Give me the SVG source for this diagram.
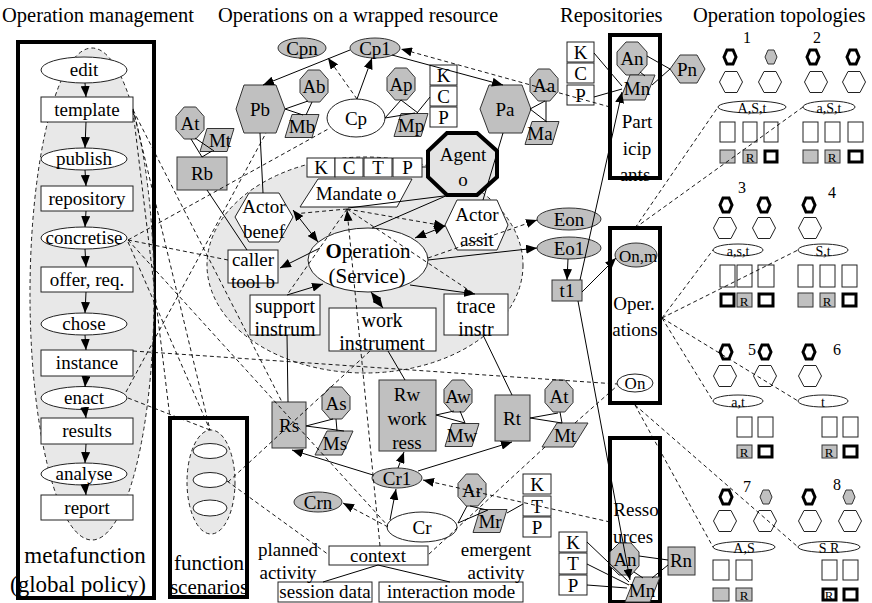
<svg xmlns="http://www.w3.org/2000/svg" width="872" height="603" viewBox="0 0 872 603">
<style>
.t{font-family:"Liberation Serif","Times New Roman",serif;font-size:19px;text-anchor:middle;fill:#000}
.s{font-size:14px}
.h{font-size:20.5px;text-anchor:start}
.w{fill:#fff;stroke:#222;stroke-width:1}
.g{fill:#c0c0c0;stroke:#333;stroke-width:1}
.lg{fill:#e8e8e8;stroke:#222;stroke-width:1;stroke-dasharray:4 3}
.thick{fill:none;stroke:#000;stroke-width:4}
.tk{fill:#fff;stroke:#000;stroke-width:3}
.ln{stroke:#000;stroke-width:1;fill:none}
.ds{stroke:#000;stroke-width:0.9;stroke-dasharray:4 3;fill:none}
.a{marker-end:url(#ar)}
.b{marker-start:url(#ar);marker-end:url(#ar)}
</style>
<defs>
<marker id="ar" viewBox="0 0 11 9" refX="11" refY="4.5" markerWidth="11" markerHeight="9" markerUnits="userSpaceOnUse" orient="auto-start-reverse"><path d="M0,0 L11,4.5 L0,9 z" fill="#000"/></marker>
<polygon id="oct" points="-5.8,-16 5.8,-16 14,-6.6 14,6.6 5.8,16 -5.8,16 -14,6.6 -14,-6.6"/>
<polygon id="par" points="-10,-11.5 17,-11.5 10,11.5 -17,11.5"/>
<polygon id="sh" points="-6,0 -3,-7 3,-7 6,0 3,7 -3,7"/>
<polygon id="bh" points="-11.5,0 -6,-10.5 6,-10.5 11.5,0 6,10.5 -6,10.5"/>
</defs>

<g id="titles">
<text class="t h" x="2" y="22">Operation management</text>
<text class="t h" x="218" y="22">Operations on a wrapped resource</text>
<text class="t h" x="560" y="22">Repositories</text>
<text class="t h" x="693" y="22">Operation topologies</text>
</g>

<g id="metafunction">
<rect x="18" y="42" width="136" height="556" class="thick"/>
<ellipse cx="92" cy="294" rx="62" ry="246" class="lg"/>
<text class="t" x="85" y="563" style="font-size:23px">metafunction</text>
<text class="t" x="78" y="592" style="font-size:23px">(global policy)</text>
</g>
<g id="scenarios">
<rect x="170" y="418" width="77" height="179" class="thick"/>
<ellipse cx="211" cy="482" rx="24" ry="52" class="lg"/>
<ellipse cx="210" cy="451" rx="17" ry="7.5" class="w"/>
<ellipse cx="210" cy="480" rx="17" ry="7.5" class="w"/>
<ellipse cx="210" cy="508" rx="17" ry="8" class="w"/>
<text class="t" x="209" y="570" style="font-size:21px">function</text>
<text class="t" x="209" y="594" style="font-size:21px">scenarios</text>
</g>
<g id="operation-area">
<ellipse cx="365" cy="265" rx="158" ry="108" class="lg"/>
</g>

<g id="edit"><ellipse cx="84" cy="70" rx="43" ry="13" class="w"/><text class="t" x="84" y="76">edit</text></g>
<g id="template"><rect x="41" y="97" width="92" height="25" class="w"/><text class="t" x="87" y="116">template</text></g>
<g id="publish"><ellipse cx="84" cy="159" rx="43" ry="11" class="w"/><text class="t" x="84" y="165">publish</text></g>
<g id="repository"><rect x="41" y="186" width="92" height="25" class="w"/><text class="t" x="87" y="205">repository</text></g>
<g id="concretise"><ellipse cx="84" cy="238" rx="43" ry="11" class="w"/><text class="t" x="84" y="244">concretise</text></g>
<g id="offer"><rect x="41" y="267" width="92" height="25" class="w"/><text class="t" x="87" y="286">offer, req.</text></g>
<g id="chose"><ellipse cx="84" cy="324" rx="43" ry="11" class="w"/><text class="t" x="84" y="330">chose</text></g>
<g id="instance"><rect x="41" y="350" width="92" height="26" class="w"/><text class="t" x="87" y="369">instance</text></g>
<g id="enact"><ellipse cx="84" cy="398" rx="43" ry="11.5" class="w"/><text class="t" x="84" y="404">enact</text></g>
<g id="results"><rect x="41" y="418" width="92" height="26" class="w"/><text class="t" x="87" y="437">results</text></g>
<g id="analyse"><ellipse cx="84" cy="474" rx="43" ry="11" class="w"/><text class="t" x="84" y="480">analyse</text></g>
<g id="report"><rect x="41" y="495" width="92" height="25" class="w"/><text class="t" x="87" y="514">report</text></g>

<g id="Cpn"><ellipse cx="302" cy="48" rx="24" ry="10" class="g"/><text class="t" x="302" y="55">Cpn</text></g>
<g id="Cp1"><ellipse cx="375" cy="48" rx="25" ry="10" class="g"/><text class="t" x="375" y="55">Cp1</text></g>
<g id="Pb"><polygon points="236,109 244,85 276,85 285,109 276,133 244,133" class="g"/><text class="t" x="260" y="116">Pb</text></g>
<g id="Ab"><use href="#oct" x="314" y="86" class="g"/><text class="t" x="314" y="93">Ab</text></g>
<g id="Mb"><use href="#par" x="302" y="126" class="g"/><text class="t" x="302" y="133">Mb</text></g>
<g id="Cp"><ellipse cx="356" cy="118" rx="29" ry="19" class="w"/><text class="t" x="356" y="125">Cp</text></g>
<g id="At1"><use href="#oct" x="190" y="123" class="g"/><text class="t" x="190" y="130">At</text></g>
<g id="Mt1"><use href="#par" x="217" y="140" class="g"/><text class="t" x="220" y="147">Mt</text></g>
<g id="Rb"><rect x="177" y="157" width="50" height="33" class="g"/><text class="t" x="202" y="180">Rb</text></g>
<g id="Ap"><use href="#oct" x="401" y="84" class="g"/><text class="t" x="401" y="91">Ap</text></g>
<g id="Mp"><use href="#par" x="411" y="125" class="g"/><text class="t" x="411" y="132">Mp</text></g>
<g id="KCP1">
<rect x="430" y="65" width="27" height="20" class="w"/><text class="t" x="443.5" y="82">K</text>
<rect x="430" y="86" width="27" height="20" class="w"/><text class="t" x="443.5" y="103">C</text>
<rect x="430" y="107" width="27" height="20" class="w"/><text class="t" x="443.5" y="124">P</text>
</g>
<g id="Pa"><polygon points="480,109 489,85 522,85 531,109 522,133 489,133" class="g"/><text class="t" x="505" y="116">Pa</text></g>
<g id="Aa"><use href="#oct" x="544" y="85" class="g"/><text class="t" x="544" y="92">Aa</text></g>
<g id="Ma"><use href="#par" x="542" y="133" class="g"/><text class="t" x="540" y="140">Ma</text></g>
<g id="Agent"><polygon points="447,133 477,133 497,151 497,177 477,195 447,195 428,177 428,151" style="fill:#e4e4e4;stroke:#000;stroke-width:4"/><text class="t" x="463" y="161">Agent</text><text class="t" x="463" y="186">o</text></g>
<g id="KCTP">
<rect x="307" y="158" width="28" height="19" class="w"/><text class="t" x="321" y="174">K</text>
<rect x="335" y="158" width="28" height="19" class="w"/><text class="t" x="349" y="174">C</text>
<rect x="364" y="158" width="28" height="19" class="w"/><text class="t" x="378" y="174">T</text>
<rect x="393" y="158" width="29" height="19" class="w"/><text class="t" x="407.5" y="174">P</text>
</g>
<g id="Mandate"><polygon points="318,179 412,179 397,207 300,207" class="w"/><text class="t" x="356" y="200">Mandate o</text></g>
<g id="ActorBenef"><polygon points="235,217 249,193 279,193 293,217 279,242 249,242" class="w"/><text class="t" x="264" y="213">Actor</text><text class="t" x="264" y="238">benef</text></g>
<g id="caller"><rect x="228" y="250" width="50" height="33" class="w"/><text class="t" x="253" y="266">caller</text><text class="t" x="253" y="288">tool b</text></g>
<g id="Operation"><ellipse cx="368" cy="260" rx="60" ry="32" class="w"/><text class="t" x="368" y="258" style="font-size:21px"><tspan font-weight="bold">O</tspan>peration</text><text class="t" x="367" y="283" style="font-size:21px">(Service)</text></g>
<g id="ActorAssit"><polygon points="445,225 457,200 497,200 508,225 497,250 457,250" class="w"/><text class="t" x="477" y="221">Actor</text><text class="t" x="477" y="246">assit</text></g>
<g id="support"><rect x="250" y="295" width="70" height="40" class="w"/><text class="t" x="285" y="313" style="font-size:20px">support</text><text class="t" x="285" y="336" style="font-size:20px">instrum</text></g>
<g id="work"><rect x="329" y="308" width="107" height="43" class="w"/><text class="t" x="382" y="327" style="font-size:20px">work</text><text class="t" x="382" y="350" style="font-size:20px">instrument</text></g>
<g id="trace"><rect x="444" y="294" width="64" height="41" class="w"/><text class="t" x="476" y="313" style="font-size:20px">trace</text><text class="t" x="476" y="336" style="font-size:20px">instr</text></g>
<g id="Eon"><ellipse cx="569" cy="219" rx="32" ry="11" class="g"/><text class="t" x="569" y="226">Eon</text></g>
<g id="Eo1"><ellipse cx="569" cy="248" rx="32" ry="11" class="g"/><text class="t" x="569" y="255">Eo1</text></g>
<g id="t1"><rect x="552" y="280" width="30" height="21" class="g"/><text class="t" x="567" y="297">t1</text></g>

<g id="Participants"><rect x="610" y="35" width="50" height="143" class="thick"/><text class="t" x="637" y="128">Part</text><text class="t" x="637" y="155">icip</text><text class="t" x="635" y="181">ants</text></g>
<g id="AnP"><polygon points="626,42 638,42 647,52 647,65 638,75 626,75 617,65 617,52" class="g"/><text class="t" x="632" y="65">An</text></g>
<g id="MnP"><polygon points="630,75 655,75 645,100 620,100" class="g"/><text class="t" x="637" y="95">Mn</text></g>
<g id="Pn"><polygon points="670,69 680,55 697,55 705,69 697,83 680,83" class="g"/><text class="t" x="687" y="76">Pn</text></g>
<g id="KCP2">
<rect x="567" y="42" width="27" height="20" class="w"/><text class="t" x="580.5" y="59">K</text>
<rect x="567" y="63" width="27" height="20" class="w"/><text class="t" x="580.5" y="80">C</text>
<rect x="567" y="85" width="27" height="20" class="w"/><text class="t" x="580.5" y="102">P</text>
</g>
<g id="Operations"><rect x="610" y="228" width="50" height="175" class="thick"/><text class="t" x="634" y="310">Oper.</text><text class="t" x="635" y="336">ations</text></g>
<g id="Onm"><ellipse cx="636" cy="255" rx="21" ry="12" class="g"/><text class="t" x="638" y="262" style="font-size:17px">On,m</text></g>
<g id="On"><ellipse cx="635" cy="383" rx="18" ry="9" class="w"/><text class="t" x="635" y="389" style="font-size:17px">On</text></g>
<g id="Ressources"><rect x="610" y="438" width="50" height="164" class="thick"/><text class="t" x="636" y="516">Resso</text><text class="t" x="633" y="543">urces</text></g>
<g id="AnR"><polygon points="619,543 631,543 639,552 639,566 631,575 619,575 610,566 610,552" class="g"/><text class="t" x="625" y="566">An</text></g>
<g id="MnR"><polygon points="635,577 660,577 650,602 625,602" class="g"/><text class="t" x="642" y="597">Mn</text></g>
<g id="Rn"><rect x="668" y="547" width="27" height="28" class="g"/><text class="t" x="681" y="567">Rn</text></g>
<g id="KTP2">
<rect x="559" y="532" width="28" height="20" class="w"/><text class="t" x="573" y="549">K</text>
<rect x="559" y="553" width="28" height="21" class="w"/><text class="t" x="573" y="570">T</text>
<rect x="559" y="575" width="28" height="20" class="w"/><text class="t" x="573" y="592">P</text>
</g>

<g id="Rs"><rect x="272" y="402" width="34" height="46" class="g"/><text class="t" x="289" y="432">Rs</text></g>
<g id="As"><use href="#oct" x="336" y="403" class="g"/><text class="t" x="336" y="410">As</text></g>
<g id="Ms"><polygon points="327,431 353,431 342,455 315,455" class="g"/><text class="t" x="335" y="450">Ms</text></g>
<g id="Rw"><rect x="379" y="380" width="57" height="71" class="g"/><text class="t" x="407" y="401">Rw</text><text class="t" x="407" y="425">work</text><text class="t" x="407" y="449">ress</text></g>
<g id="Aw"><use href="#oct" x="458" y="396" class="g"/><text class="t" x="458" y="403">Aw</text></g>
<g id="Mw"><use href="#par" x="462" y="435" class="g"/><text class="t" x="462" y="442">Mw</text></g>
<g id="Rt"><rect x="495" y="395" width="35" height="46" class="g"/><text class="t" x="512" y="425">Rt</text></g>
<g id="At2"><use href="#oct" x="559" y="396" class="g"/><text class="t" x="559" y="403">At</text></g>
<g id="Mt2"><polygon points="557,423 588,423 573,447 542,447" class="g"/><text class="t" x="565" y="442">Mt</text></g>
<g id="Cr1"><ellipse cx="397" cy="478" rx="25" ry="10" class="g"/><text class="t" x="397" y="485">Cr1</text></g>
<g id="Crn"><ellipse cx="318" cy="502" rx="24" ry="10" class="g"/><text class="t" x="318" y="509">Crn</text></g>
<g id="Cr"><ellipse cx="422" cy="527" rx="35" ry="15" class="w"/><text class="t" x="422" y="534">Cr</text></g>
<g id="Ar"><use href="#oct" x="472" y="490" class="g"/><text class="t" x="472" y="497">Ar</text></g>
<g id="Mr"><use href="#par" x="490" y="521" class="g"/><text class="t" x="490" y="528">Mr</text></g>
<g id="KTP1">
<rect x="523" y="474" width="28" height="20" class="w"/><text class="t" x="537" y="491">K</text>
<rect x="523" y="496" width="28" height="20" class="w"/><text class="t" x="537" y="513">T</text>
<rect x="523" y="517" width="28" height="20" class="w"/><text class="t" x="537" y="534">P</text>
</g>
<g id="context"><rect x="329" y="546" width="99" height="19" class="w"/><text class="t" x="378" y="562">context</text></g>
<g id="session"><rect x="278" y="582" width="94" height="20" class="w"/><text class="t" x="325" y="598">session data</text></g>
<g id="interaction"><rect x="379" y="582" width="144" height="20" class="w"/><text class="t" x="451" y="598">interaction mode</text></g>
<g id="labels">
<text class="t" x="288" y="556">planned</text><text class="t" x="288" y="579">activity</text>
<text class="t" x="496" y="556">emergent</text><text class="t" x="496" y="579">activity</text>
</g>

<g id="topology1">
<text class="t" x="747" y="43" style="font-size:16px">1</text>
<use href="#sh" x="730" y="57" class="tk"/><use href="#sh" x="771" y="57" class="g"/>
<use href="#bh" x="731" y="82" class="w"/><use href="#bh" x="770" y="82" class="w"/>
<ellipse cx="752" cy="107" rx="34" ry="6" class="w"/><text class="t s" x="752" y="113">A,S,t</text>
<rect x="720" y="122" width="15" height="20" class="w"/><rect x="743" y="122" width="14" height="20" class="w"/><rect x="764" y="122" width="14" height="20" class="w"/>
<rect x="720" y="150" width="15" height="13" class="g"/><rect x="743" y="150" width="14" height="13" class="g"/><text class="t" x="750" y="162" style="font-size:13px">R</text><rect x="765" y="151" width="12" height="11" class="tk"/>
</g>
<g id="topology2">
<text class="t" x="817" y="43" style="font-size:16px">2</text>
<use href="#sh" x="813" y="57" class="tk"/><use href="#sh" x="853" y="57" class="tk"/>
<use href="#bh" x="816" y="82" class="w"/><use href="#bh" x="854" y="82" class="w"/>
<ellipse cx="829" cy="107" rx="26" ry="6" class="w"/><text class="t s" x="829" y="113">a,S,t</text>
<rect x="803" y="122" width="15" height="20" class="w"/><rect x="825" y="122" width="15" height="20" class="w"/><rect x="848" y="122" width="15" height="20" class="w"/>
<rect x="803" y="150" width="15" height="13" class="g"/><rect x="825" y="150" width="15" height="13" class="g"/><text class="t" x="832" y="162" style="font-size:13px">R</text><rect x="849" y="151" width="13" height="11" class="tk"/>
</g>
<g id="topology3">
<text class="t" x="742" y="193" style="font-size:16px">3</text>
<use href="#sh" x="726" y="205" class="tk"/><use href="#sh" x="764" y="205" class="tk"/>
<use href="#bh" x="725" y="228" class="w"/><use href="#bh" x="764" y="228" class="w"/>
<ellipse cx="738" cy="250" rx="25" ry="6" class="w"/><text class="t s" x="738" y="256">a,s,t</text>
<rect x="720" y="265" width="15" height="22" class="w"/><rect x="737" y="265" width="15" height="22" class="w"/><rect x="758" y="265" width="16" height="22" class="w"/>
<rect x="721" y="294" width="13" height="12" class="tk"/><rect x="737" y="293" width="15" height="14" class="g"/><text class="t" x="744" y="306" style="font-size:13px">R</text><rect x="759" y="294" width="14" height="12" class="tk"/>
</g>
<g id="topology4">
<text class="t" x="832" y="198" style="font-size:16px">4</text>
<use href="#sh" x="809" y="205" class="tk"/>
<use href="#bh" x="810" y="228" class="w"/>
<ellipse cx="823" cy="250" rx="25" ry="6" class="w"/><text class="t s" x="823" y="256">S,t</text>
<rect x="798" y="265" width="15" height="22" class="w"/><rect x="820" y="265" width="15" height="22" class="w"/><rect x="842" y="265" width="15" height="22" class="w"/>
<rect x="798" y="293" width="15" height="14" class="g"/><rect x="820" y="293" width="15" height="14" class="g"/><text class="t" x="827" y="306" style="font-size:13px">R</text><rect x="843" y="294" width="13" height="12" class="tk"/>
</g>
<g id="topology5">
<text class="t" x="752" y="355" style="font-size:16px">5</text>
<use href="#sh" x="726" y="352" class="tk"/><use href="#sh" x="765" y="352" class="tk"/>
<use href="#bh" x="725" y="376" class="w"/><use href="#bh" x="765" y="376" class="w"/>
<ellipse cx="738" cy="401" rx="25" ry="6" class="w"/><text class="t s" x="738" y="407">a,t</text>
<rect x="737" y="417" width="15" height="20" class="w"/><rect x="758" y="417" width="15" height="20" class="w"/>
<rect x="737" y="445" width="15" height="13" class="g"/><text class="t" x="744" y="457" style="font-size:13px">R</text><rect x="759" y="446" width="13" height="11" class="tk"/>
</g>
<g id="topology6">
<text class="t" x="837" y="355" style="font-size:16px">6</text>
<use href="#sh" x="809" y="352" class="tk"/>
<use href="#bh" x="810" y="376" class="w"/>
<ellipse cx="823" cy="401" rx="25" ry="6" class="w"/><text class="t s" x="823" y="407">t</text>
<rect x="822" y="417" width="15" height="20" class="w"/><rect x="843" y="417" width="15" height="20" class="w"/>
<rect x="822" y="445" width="15" height="13" class="g"/><text class="t" x="829" y="457" style="font-size:13px">R</text><rect x="844" y="446" width="13" height="11" class="tk"/>
</g>
<g id="topology7">
<text class="t" x="747" y="492" style="font-size:16px">7</text>
<use href="#sh" x="726" y="497" class="tk"/><use href="#sh" x="766" y="497" class="g"/>
<use href="#bh" x="725" y="521" class="w"/><use href="#bh" x="765" y="521" class="w"/>
<ellipse cx="744" cy="547" rx="31" ry="5.5" class="w"/><text class="t s" x="744" y="553">A,S</text>
<rect x="713" y="560" width="16" height="20" class="w"/><rect x="736" y="560" width="16" height="20" class="w"/>
<rect x="713" y="588" width="16" height="13" class="g"/><rect x="736" y="588" width="16" height="13" class="g"/><text class="t" x="744" y="600" style="font-size:13px">R</text>
</g>
<g id="topology8">
<text class="t" x="837" y="490" style="font-size:16px">8</text>
<use href="#sh" x="809" y="497" class="tk"/><use href="#sh" x="849" y="497" class="g"/>
<use href="#bh" x="810" y="521" class="w"/><use href="#bh" x="850" y="521" class="w"/>
<ellipse cx="829" cy="547" rx="31" ry="5.5" class="w"/><text class="t s" x="829" y="553">S R</text>
<rect x="822" y="560" width="15" height="20" class="w"/><rect x="843" y="560" width="15" height="20" class="w"/>
<rect x="823" y="589" width="13" height="11" class="tk"/><text class="t" x="829" y="600" style="font-size:13px">R</text><rect x="844" y="589" width="13" height="11" class="tk"/>
</g>

<g id="connectors">
<line x1="85" y1="83" x2="86" y2="97" class="ln a"/>
<line x1="86" y1="122" x2="85" y2="148" class="ln a"/>
<line x1="85" y1="170" x2="86" y2="186" class="ln a"/>
<line x1="86" y1="211" x2="85" y2="227" class="ln a"/>
<line x1="85" y1="249" x2="86" y2="267" class="ln a"/>
<line x1="86" y1="292" x2="85" y2="313" class="ln a"/>
<line x1="85" y1="335" x2="86" y2="350" class="ln a"/>
<line x1="86" y1="376" x2="85" y2="387" class="ln a"/>
<line x1="85" y1="410" x2="86" y2="418" class="ln a"/>
<line x1="86" y1="444" x2="85" y2="463" class="ln a"/>
<line x1="85" y1="485" x2="86" y2="495" class="ln a"/>
<line x1="133" y1="109" x2="210" y2="430" class="ds"/>
<line x1="133" y1="110" x2="282" y2="402" class="ds"/>
<line x1="133" y1="111" x2="170" y2="418" class="ds"/>
<line x1="128" y1="240" x2="330" y2="128" class="ds"/>
<line x1="128" y1="240" x2="228" y2="260" class="ds"/>
<line x1="128" y1="240" x2="388" y2="526" class="ds"/>
<line x1="128" y1="242" x2="210" y2="430" class="ds"/>
<line x1="128" y1="398" x2="210" y2="430" class="ds"/>
<line x1="126" y1="392" x2="266" y2="133" class="ds"/>
<line x1="133" y1="351" x2="617" y2="384" class="ds"/>
<line x1="227" y1="481" x2="329" y2="555" class="ds"/>
<line x1="228" y1="482" x2="370" y2="351" class="ds"/>
<line x1="350" y1="50" x2="263" y2="85" class="ln a"/>
<line x1="357" y1="99" x2="372" y2="58" class="ln a"/>
<line x1="392" y1="55" x2="503" y2="85" class="ln a"/>
<line x1="357" y1="99" x2="328" y2="58" class="ds a"/>
<line x1="610" y1="107" x2="401" y2="49" class="ds a"/>
<line x1="285" y1="109" x2="308" y2="101" class="ln"/>
<line x1="285" y1="109" x2="303" y2="115" class="ln"/>
<line x1="312" y1="102" x2="306" y2="115" class="ln"/>
<line x1="202" y1="157" x2="191" y2="139" class="ln"/>
<line x1="202" y1="157" x2="212" y2="151" class="ln"/>
<line x1="195" y1="138" x2="214" y2="151" class="ln"/>
<line x1="385" y1="118" x2="401" y2="100" class="ln"/>
<line x1="385" y1="118" x2="415" y2="113" class="ln"/>
<line x1="401" y1="100" x2="418" y2="113" class="ln"/>
<line x1="417" y1="113" x2="430" y2="97" class="ln"/>
<line x1="530" y1="109" x2="545" y2="101" class="ln"/>
<line x1="530" y1="109" x2="547" y2="122" class="ln"/>
<line x1="546" y1="101" x2="546" y2="122" class="ln"/>
<line x1="260" y1="133" x2="263" y2="193" class="ln"/>
<line x1="503" y1="133" x2="483" y2="200" class="ln"/>
<line x1="207" y1="190" x2="247" y2="250" class="ln"/>
<line x1="422" y1="167" x2="428" y2="167" class="ds"/>
<line x1="452" y1="195" x2="348" y2="208" class="ln"/>
<line x1="448" y1="195" x2="372" y2="228" class="ln"/>
<line x1="293" y1="210" x2="318" y2="242" class="ln b"/>
<line x1="320" y1="248" x2="280" y2="268" class="ln a"/>
<line x1="287" y1="295" x2="323" y2="284" class="ln a"/>
<line x1="371" y1="292" x2="383" y2="308" class="ln b"/>
<line x1="410" y1="285" x2="475" y2="294" class="ln a"/>
<line x1="415" y1="238" x2="445" y2="226" class="ln b"/>
<line x1="428" y1="260" x2="537" y2="248" class="ln a"/>
<line x1="428" y1="258" x2="537" y2="220" class="ds a"/>
<line x1="347" y1="209" x2="445" y2="226" class="ds a"/>
<line x1="347" y1="209" x2="293" y2="214" class="ds"/>
<line x1="347" y1="209" x2="287" y2="295" class="ds"/>
<line x1="347" y1="209" x2="473" y2="293" class="ds"/>
<line x1="380" y1="546" x2="347" y2="210" class="ds a"/>
<line x1="568" y1="259" x2="567" y2="280" class="ln a"/>
<line x1="580" y1="280" x2="622" y2="92" class="ln a"/>
<line x1="582" y1="292" x2="616" y2="258" class="ln a"/>
<line x1="578" y1="301" x2="630" y2="580" class="ln a"/>
<line x1="647" y1="56" x2="670" y2="69" class="ln"/>
<line x1="652" y1="85" x2="670" y2="69" class="ln"/>
<line x1="640" y1="72" x2="645" y2="76" class="ln"/>
<line x1="594" y1="53" x2="622" y2="86" class="ln"/>
<line x1="594" y1="97" x2="622" y2="89" class="ln"/>
<line x1="639" y1="556" x2="668" y2="560" class="ln"/>
<line x1="652" y1="578" x2="668" y2="565" class="ln"/>
<line x1="634" y1="572" x2="643" y2="578" class="ln"/>
<line x1="587" y1="542" x2="629" y2="582" class="ln"/>
<line x1="587" y1="564" x2="629" y2="585" class="ln"/>
<line x1="587" y1="585" x2="627" y2="588" class="ln"/>
<line x1="306" y1="426" x2="333" y2="419" class="ln"/>
<line x1="306" y1="426" x2="344" y2="431" class="ln"/>
<line x1="336" y1="419" x2="337" y2="431" class="ln"/>
<line x1="436" y1="415" x2="454" y2="411" class="ln"/>
<line x1="436" y1="415" x2="465" y2="423" class="ln"/>
<line x1="460" y1="411" x2="465" y2="423" class="ln"/>
<line x1="530" y1="418" x2="558" y2="413" class="ln"/>
<line x1="530" y1="418" x2="562" y2="423" class="ln"/>
<line x1="560" y1="412" x2="562" y2="423" class="ln"/>
<line x1="458" y1="523" x2="467" y2="506" class="ln"/>
<line x1="458" y1="523" x2="488" y2="510" class="ln"/>
<line x1="470" y1="506" x2="487" y2="510" class="ln"/>
<line x1="507" y1="513" x2="523" y2="504" class="ln"/>
<line x1="288" y1="402" x2="287" y2="335" class="ln"/>
<line x1="405" y1="380" x2="388" y2="351" class="ln"/>
<line x1="512" y1="395" x2="483" y2="335" class="ln"/>
<line x1="390" y1="520" x2="396" y2="489" class="ln a"/>
<line x1="373" y1="475" x2="292" y2="450" class="ln a"/>
<line x1="398" y1="468" x2="404" y2="452" class="ln a"/>
<line x1="418" y1="471" x2="512" y2="442" class="ln a"/>
<line x1="388" y1="527" x2="343" y2="503" class="ds a"/>
<line x1="610" y1="522" x2="423" y2="480" class="ds a"/>
<line x1="575" y1="423" x2="617" y2="386" class="ds"/>
<line x1="545" y1="447" x2="428" y2="555" class="ds"/>
<line x1="378" y1="565" x2="323" y2="582" class="ln"/>
<line x1="378" y1="565" x2="450" y2="582" class="ln"/>
<line x1="635" y1="228" x2="718" y2="107" class="ds"/>
<line x1="635" y1="228" x2="803" y2="107" class="ds"/>
<line x1="662" y1="318" x2="713" y2="250" class="ds"/>
<line x1="662" y1="318" x2="798" y2="250" class="ds"/>
<line x1="662" y1="318" x2="713" y2="401" class="ds"/>
<line x1="662" y1="318" x2="798" y2="401" class="ds"/>
<line x1="635" y1="405" x2="713" y2="547" class="ds"/>
<line x1="635" y1="405" x2="798" y2="547" class="ds"/>
</g>
</svg>
